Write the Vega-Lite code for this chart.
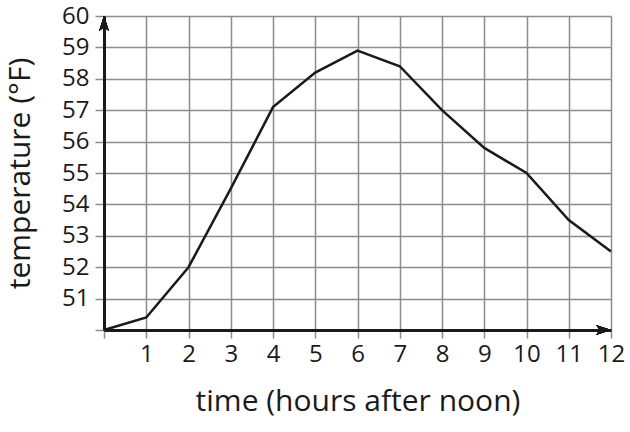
{
  "$schema": "https://vega.github.io/schema/vega-lite/v6.json",
  "description": "Temperature after noon",
  "width": 507,
  "height": 314,
  "autosize": "none",
  "padding": {"left": 104, "top": 16, "right": 19, "bottom": 102},
  "data": {
    "values": [
      {"time": 0, "temp": 50},
      {"time": 1, "temp": 50.4},
      {"time": 2, "temp": 52},
      {"time": 3, "temp": 54.5},
      {"time": 4, "temp": 57.1},
      {"time": 5, "temp": 58.2},
      {"time": 6, "temp": 58.9},
      {"time": 7, "temp": 58.4},
      {"time": 8, "temp": 57},
      {"time": 9, "temp": 55.8},
      {"time": 10, "temp": 55},
      {"time": 11, "temp": 53.5},
      {"time": 12, "temp": 52.5}
    ]
  },
  "layer": [
    {
      "mark": {"type": "line", "color": "#1a1a1a", "strokeWidth": 2.5},
      "encoding": {
        "x": {
          "field": "time",
          "type": "quantitative",
          "scale": {"domain": [0, 12], "nice": false},
          "axis": {
            "values": [0, 1, 2, 3, 4, 5, 6, 7, 8, 9, 10, 11, 12],
            "labelExpr": "datum.value == 0 ? '' : datum.label",
            "labelFontSize": 24,
            "title": "time (hours after noon)"
          }
        },
        "y": {
          "field": "temp",
          "type": "quantitative",
          "scale": {"domain": [50, 60], "nice": false, "zero": false},
          "axis": {
            "values": [50, 51, 52, 53, 54, 55, 56, 57, 58, 59, 60],
            "labelExpr": "datum.value == 50 ? '' : datum.label",
            "labelFontSize": 24,
            "title": "temperature (°F)"
          }
        }
      }
    },
    {
      "mark": {"type": "point", "filled": true, "opacity": 1, "color": "#1a1a1a", "size": 110, "shape": "M0,0L-0.9,2.8L0,2.1L0.9,2.8Z"},
      "encoding": {
        "x": {"datum": 0, "type": "quantitative", "axis": {"values": [0, 1, 2, 3, 4, 5, 6, 7, 8, 9, 10, 11, 12], "labelExpr": "datum.value == 0 ? '' : datum.label", "labelFontSize": 24, "title": "time (hours after noon)"}},
        "y": {"datum": 60, "type": "quantitative", "axis": {"values": [50, 51, 52, 53, 54, 55, 56, 57, 58, 59, 60], "labelExpr": "datum.value == 50 ? '' : datum.label", "labelFontSize": 24, "title": "temperature (°F)"}}
      }
    },
    {
      "mark": {"type": "point", "filled": true, "opacity": 1, "color": "#1a1a1a", "size": 110, "shape": "M0,0L-2.8,-0.9L-2.1,0L-2.8,0.9Z"},
      "encoding": {
        "x": {"datum": 12, "type": "quantitative", "axis": {"values": [0, 1, 2, 3, 4, 5, 6, 7, 8, 9, 10, 11, 12], "labelExpr": "datum.value == 0 ? '' : datum.label", "labelFontSize": 24, "title": "time (hours after noon)"}},
        "y": {"datum": 50, "type": "quantitative", "axis": {"values": [50, 51, 52, 53, 54, 55, 56, 57, 58, 59, 60], "labelExpr": "datum.value == 50 ? '' : datum.label", "labelFontSize": 24, "title": "temperature (°F)"}}
      }
    }
  ],
  "config": {
    "font": "Open Sans",
    "view": {"stroke": null},
    "axis": {
      "domain": true,
      "domainColor": "#1a1a1a",
      "domainWidth": 3,
      "grid": true,
      "gridColor": "#8c8c8c",
      "gridWidth": 1.5,
      "gridOpacity": 1,
      "tickColor": "#8c8c8c",
      "tickWidth": 1.5,
      "labelColor": "#1a1a1a",
      "titleColor": "#1a1a1a",
      "titleFontWeight": "normal",
      "labelFont": "Open Sans",
      "titleFont": "Open Sans",
      "titleFontSize": 30,
      "labelFlush": false,
      "labelOverlap": false
    },
    "axisX": {"tickSize": 8, "labelPadding": 4, "titlePadding": 20},
    "axisY": {"tickSize": 9, "labelPadding": 6, "titlePadding": 26}
  }
}
